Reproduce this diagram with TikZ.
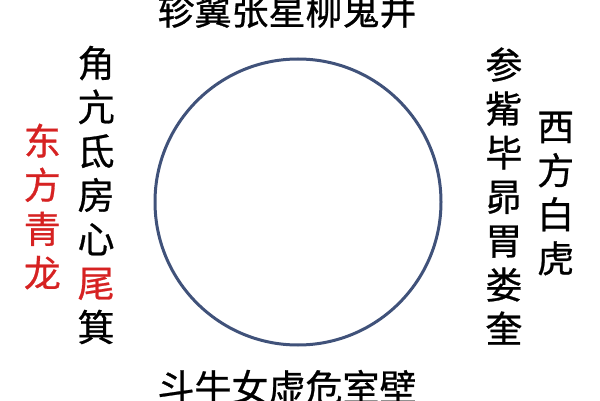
\documentclass[tikz,border=0pt]{standalone}
\usepackage{fontspec}
\newfontfamily\cjk[FakeBold=0.7]{Noto Sans CJK SC}
\usetikzlibrary{positioning}
\definecolor{ringBlue}{RGB}{64,82,122}
\definecolor{lodgeRed}{RGB}{214,34,34}

\begin{document}
\begin{tikzpicture}[
    x=1pt, y=1pt,
    thick
  ]

  %--- styles for the ring and the lodge names ---
  \tikzset{
    ringStyle/.style  ={circle, draw=ringBlue, line width=3pt, inner sep=0pt,
    minimum size=286pt},
    rowStyle/.style   ={inner sep=0pt, font=\cjk\fontsize{37}{44}\selectfont},
    colStyle/.style   ={inner sep=0pt, align=center,
    font=\cjk\fontsize{37}{44}\selectfont},
    titleStyle/.style ={colStyle, text=lodgeRed},
  }

  \useasboundingbox (0,0) rectangle (600,400);

  %------------------------------------------------------------------------------
  % 1) The ring
  %------------------------------------------------------------------------------
  \node[ringStyle] (ring) at (298,198) {};

  %------------------------------------------------------------------------------
  % 2) South lodges above, north lodges below
  %------------------------------------------------------------------------------
  \node[rowStyle] (south) [above=29pt of ring, xshift=-11pt] {轸翼张星柳鬼井};
  \node[rowStyle] (north) [below=23pt of ring, xshift=-11pt] {斗牛女虚危室壁};

  %------------------------------------------------------------------------------
  % 3) East on the left, west on the right
  %------------------------------------------------------------------------------
  \node[colStyle] (east) [left=38.5pt of ring, yshift=7pt]
  {角\\亢\\氐\\房\\心\\{\color{lodgeRed}尾}\\箕};
  \node[titleStyle] (eastTitle) [left=16pt of east, yshift=-11.5pt]
  {东\\方\\青\\龙};

  \node[colStyle] (west) [right=42.5pt of ring, yshift=6pt]
  {参\\觜\\毕\\昴\\胃\\娄\\奎};
  \node[colStyle] (westTitle) [right=14pt of west, yshift=2.5pt]
  {西\\方\\白\\虎};

\end{tikzpicture}
\end{document}
